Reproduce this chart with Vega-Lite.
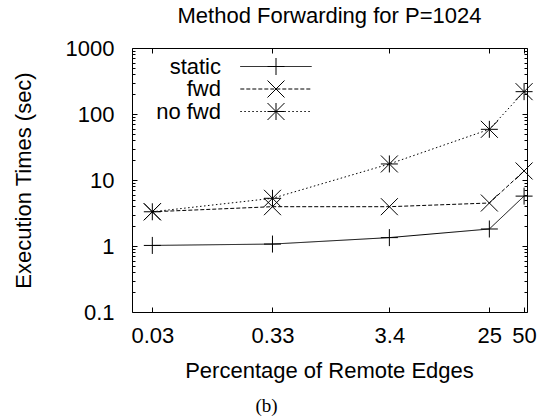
{
  "$schema": "https://vega.github.io/schema/vega-lite/v6.json",
  "width": 395,
  "height": 264,
  "autosize": {"type": "none"},
  "padding": {"left": 132, "top": 48, "right": 26, "bottom": 106},
  "background": "white",
  "title": {
    "text": "Method Forwarding for P=1024",
    "font": "Liberation Sans",
    "fontSize": 22,
    "fontWeight": "normal",
    "color": "black",
    "anchor": "middle",
    "frame": "group",
    "baseline": "alphabetic",
    "offset": 4,
    "dy": 12
  },
  "config": {
    "view": {"stroke": "black", "strokeWidth": 1},
    "axis": {"grid": false, "domain": false, "tickColor": "black", "labelColor": "black", "labelFont": "Liberation Sans", "labelFontSize": 22, "titleFont": "Liberation Sans", "titleFontSize": 22, "titleFontWeight": "normal", "titleColor": "black", "labelFlush": false, "labelOverlap": false}
  },
  "data": {
    "values": [
      {"x": 0.03, "series": "static", "value": 1.02},
      {"x": 0.33, "series": "static", "value": 1.07},
      {"x": 3.4, "series": "static", "value": 1.34},
      {"x": 25, "series": "static", "value": 1.81},
      {"x": 50, "series": "static", "value": 5.7},
      {"x": 0.03, "series": "fwd", "value": 3.3},
      {"x": 0.33, "series": "fwd", "value": 3.94},
      {"x": 3.4, "series": "fwd", "value": 3.94},
      {"x": 25, "series": "fwd", "value": 4.48},
      {"x": 50, "series": "fwd", "value": 13.7},
      {"x": 0.03, "series": "no fwd", "value": 3.3},
      {"x": 0.33, "series": "no fwd", "value": 5.28},
      {"x": 3.4, "series": "no fwd", "value": 17.5},
      {"x": 25, "series": "no fwd", "value": 58.6},
      {"x": 50, "series": "no fwd", "value": 218}
    ]
  },
  "resolve": {"axis": {"x": "independent", "y": "independent"}},
  "layer": [
    {
      "mark": {"type": "line", "color": "black", "strokeWidth": 1},
      "encoding": {
        "x": {"field": "x", "type": "quantitative",
          "scale": {"type": "log", "domain": [0.02, 53], "nice": false},
          "axis": {"orient": "bottom", "values": [0.03, 0.33, 3.4, 25, 50], "format": "~g", "tickSize": -5, "labelPadding": 35, "labelBaseline": "alphabetic", "labelDx": 2,
            "title": "Percentage of Remote Edges", "titleX": 197, "titleY": 65, "titleBaseline": "alphabetic", "titleAlign": "center", "titleAnchor": null}},
        "y": {"field": "value", "type": "quantitative",
          "scale": {"type": "log", "domain": [0.1, 1000], "nice": false},
          "axis": {"orient": "left", "values": [0.1, 1, 10, 100, 1000], "format": "~g", "tickSize": -5, "labelPadding": 23, "labelAlign": "right", "labelBaseline": "middle",
            "title": "Execution Times (sec)", "titleX": -102, "titleY": 132, "titleAngle": -90, "titleBaseline": "alphabetic", "titleAlign": "center", "titleAnchor": null}},
        "strokeDash": {"field": "series", "type": "nominal", "sort": ["static", "fwd", "no fwd"],
          "scale": {"range": [[1, 0], [4, 2], [1.5, 2.5]]},
          "legend": {"orient": "none", "legendX": 133, "legendY": 7.5, "title": null, "symbolType": "M-4.2,0L4.2,0", "symbolSize": 289, "symbolStrokeColor": "black", "symbolStrokeWidth": 1, "labelFont": "Liberation Sans", "labelFontSize": 22, "labelColor": "black", "labelAlign": "right", "labelOffset": -66, "rowPadding": 0.5, "padding": 0}}
      }
    },
    {
      "mark": {"type": "point", "filled": false, "stroke": "black", "strokeWidth": 1, "size": 289, "opacity": 1},
      "encoding": {
        "x": {"field": "x", "type": "quantitative",
          "axis": {"orient": "top", "values": [0.03, 0.33, 3.4, 25, 50], "tickSize": -5, "labels": false, "title": null}},
        "y": {"field": "value", "type": "quantitative",
          "axis": {"orient": "right", "values": [0.1, 1, 10, 100, 1000], "tickSize": -5, "labels": false, "title": null}},
        "shape": {"field": "series", "type": "nominal",
          "scale": {"domain": ["static", "fwd", "no fwd"], "range": ["M-1,0L1,0M0,-1L0,1", "M-1,-1L1,1M-1,1L1,-1", "M-1,0L1,0M0,-1L0,1M-1,-1L1,1M-1,1L1,-1"]},
          "legend": {"orient": "none", "legendX": 133, "legendY": 7.5, "title": null, "symbolSize": 289, "symbolStrokeColor": "black", "symbolFillColor": "transparent", "symbolStrokeWidth": 1, "labelFont": "Liberation Sans", "labelFontSize": 22, "labelOpacity": 0, "labelAlign": "right", "labelOffset": -66, "rowPadding": 0.5, "padding": 0}}
      }
    },
    {
      "mark": {"type": "point", "opacity": 0},
      "encoding": {
        "x": {"field": "x", "type": "quantitative",
          "axis": {"orient": "bottom", "ticks": false, "labels": false, "title": "(b)", "titleFont": "Liberation Serif", "titleFontSize": 19, "titleX": 134, "titleY": 99, "titleBaseline": "alphabetic", "titleAlign": "center", "titleAnchor": null}},
        "y": {"field": "value", "type": "quantitative",
          "axis": {"orient": "left", "values": [0.2, 0.3, 0.4, 0.5, 0.6, 0.7, 0.8, 0.9, 2, 3, 4, 5, 6, 7, 8, 9, 20, 30, 40, 50, 60, 70, 80, 90, 200, 300, 400, 500, 600, 700, 800, 900], "tickSize": -3, "labels": false, "title": null}}
      }
    },
    {
      "mark": {"type": "point", "opacity": 0},
      "encoding": {
        "x": {"field": "x", "type": "quantitative", "axis": null},
        "y": {"field": "value", "type": "quantitative",
          "axis": {"orient": "right", "values": [0.2, 0.3, 0.4, 0.5, 0.6, 0.7, 0.8, 0.9, 2, 3, 4, 5, 6, 7, 8, 9, 20, 30, 40, 50, 60, 70, 80, 90, 200, 300, 400, 500, 600, 700, 800, 900], "tickSize": -3, "labels": false, "title": null}}
      }
    }
  ]
}
